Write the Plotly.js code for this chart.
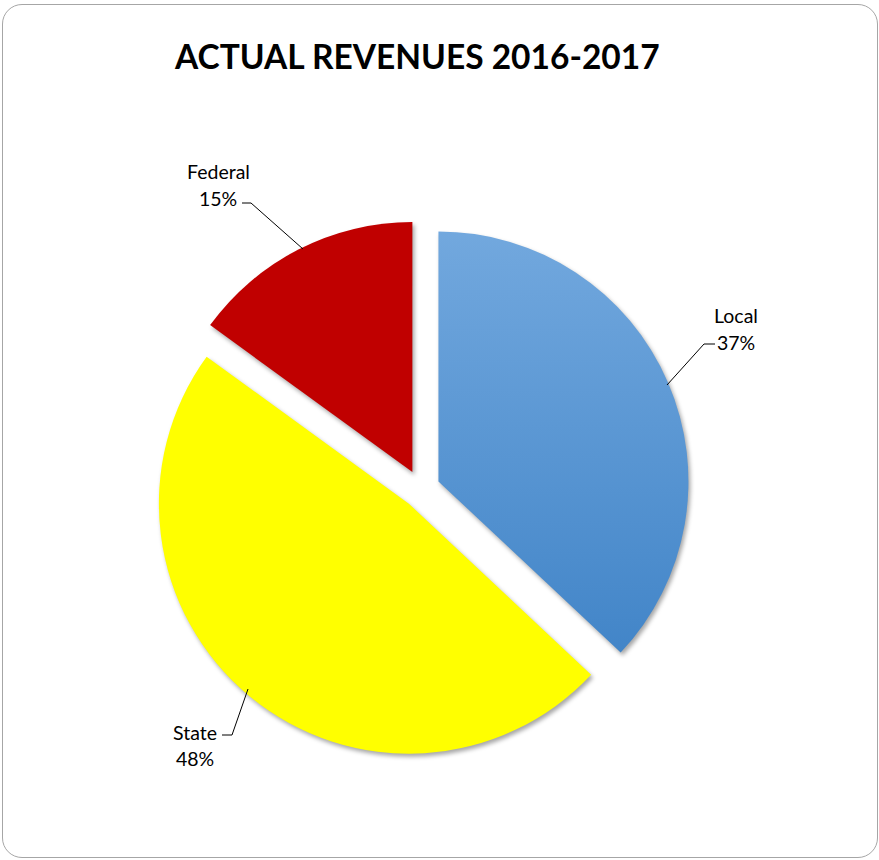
<!DOCTYPE html>
<html>
<head>
<meta charset="utf-8">
<script src="https://cdn.plot.ly/plotly-3.0.1.min.js"></script>
<style>
  html, body { margin: 0; padding: 0; background: #ffffff; }
  #wrap { position: relative; width: 879px; height: 860px; }
  #frame { position: absolute; left: 2px; top: 4px; width: 874px; height: 852px;
           border: 1.5px solid #a6a6a6; border-radius: 20px; pointer-events: none; }
  #chart { position: absolute; left: 0; top: 0; width: 879px; height: 860px; }
</style>
</head>
<body>
<div id="wrap">
  <div id="chart"></div>
  <div id="frame"></div>
</div>
<script>
// ---- data ----
const categories = ["Local", "State", "Federal"];
const shares = [37, 48, 15];
const percentLabels = ["37%", "48%", "15%"];
const sliceColors = ["#5b9bd5", "#ffff00", "#c00000"];
const chartTitle = "ACTUAL REVENUES 2016-2017";

const W = 879, H = 860;
const px = x => x / W;
const py = y => 1 - y / H;

// label layout (pixel positions of text and leader lines)
const labelSpots = {
  "Local":   {x: 736, y1: 315, y2: 342, line: [[715, 344], [704, 344], [667, 385]]},
  "State":   {x: 195, y1: 732, y2: 758, line: [[222, 735], [232, 735], [248, 689]]},
  "Federal": {x: 218, y1: 171, y2: 198, line: [[242, 203], [251, 203], [303, 249]]}
};

const annotations = [];
const shapes = [];
categories.forEach((c, i) => {
  const s = labelSpots[c];
  annotations.push({xref: 'paper', yref: 'paper', x: px(s.x), y: py(s.y1), text: c,
    showarrow: false, xanchor: 'center', yanchor: 'middle',
    font: {family: 'Lato, "Open Sans", sans-serif', size: 19.5, color: '#000'}});
  annotations.push({xref: 'paper', yref: 'paper', x: px(s.x), y: py(s.y2), text: percentLabels[i],
    showarrow: false, xanchor: 'center', yanchor: 'middle',
    font: {family: 'Lato, "Open Sans", sans-serif', size: 19.5, color: '#000'}});
  const p = s.line.map((pt, k) => (k === 0 ? 'M' : 'L') + px(pt[0]) + ',' + py(pt[1])).join(' ');
  shapes.push({type: 'path', xref: 'paper', yref: 'paper', path: p,
    line: {color: '#000', width: 1}});
});

annotations.push({xref: 'paper', yref: 'paper', x: px(417), y: py(56), text: '<b>' + chartTitle + '</b>',
  showarrow: false, xanchor: 'center', yanchor: 'middle',
  font: {family: 'Lato, "Open Sans", sans-serif', size: 33.5, color: '#000'}});

const trace = {
  type: 'pie',
  labels: categories,
  values: shares,
  sort: false,
  direction: 'clockwise',
  rotation: 0,
  pull: [0.076, 0.076, 0.076],
  marker: {colors: sliceColors, line: {width: 0}},
  textinfo: 'none',
  hoverinfo: 'label+percent',
  showlegend: false,
  domain: {x: [0.1729, 0.7850], y: [0.1186, 0.7442]}
};

const layout = {
  width: W, height: H,
  margin: {l: 0, r: 0, t: 0, b: 0},
  paper_bgcolor: 'rgba(0,0,0,0)',
  plot_bgcolor: 'rgba(0,0,0,0)',
  showlegend: false,
  annotations: annotations,
  shapes: shapes
};

Plotly.newPlot('chart', [trace], layout, {displayModeBar: false, staticPlot: true}).then(gd => {
  const svg = gd.querySelector('svg.main-svg');
  const ns = 'http://www.w3.org/2000/svg';
  let defs = svg.querySelector('defs');
  if (!defs) { defs = document.createElementNS(ns, 'defs'); svg.insertBefore(defs, svg.firstChild); }
  const g = document.createElementNS(ns, 'linearGradient');
  g.setAttribute('id', 'gradLocal');
  g.setAttribute('x1', '0'); g.setAttribute('y1', '0');
  g.setAttribute('x2', '0'); g.setAttribute('y2', '1');
  [['0', '#72a8de'], ['1', '#4285c8']].forEach(([o, c]) => {
    const st = document.createElementNS(ns, 'stop');
    st.setAttribute('offset', o); st.setAttribute('stop-color', c);
    g.appendChild(st);
  });
  defs.appendChild(g);
  const paths = gd.querySelectorAll('.slice path.surface');
  paths.forEach((p, i) => {
    if (i === 0) p.style.fill = 'url(#gradLocal)';
    p.style.filter = 'drop-shadow(2px 3px 2px rgba(0,0,0,0.35))';
  });
});
</script>
</body>
</html>
